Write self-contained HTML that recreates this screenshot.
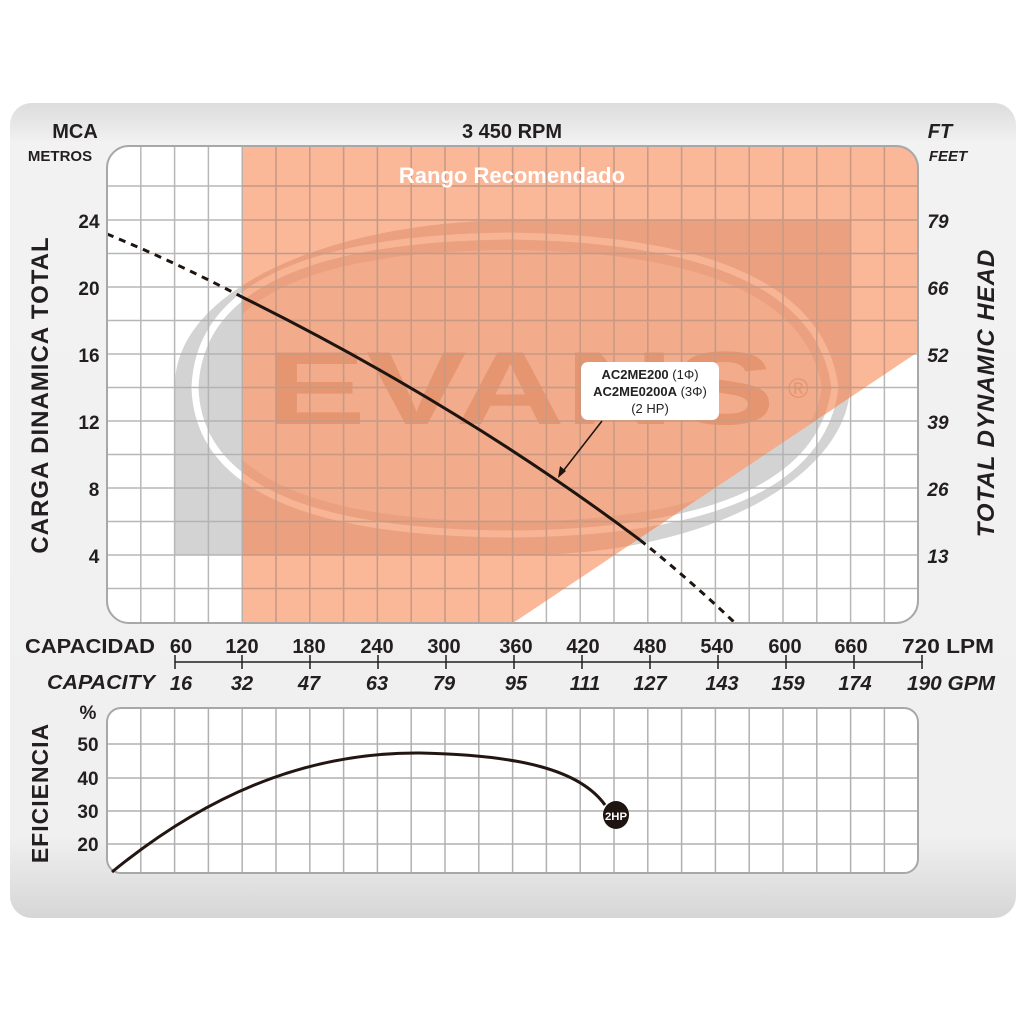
<!DOCTYPE html>
<html><head><meta charset="utf-8"><style>
html,body{margin:0;padding:0;background:#fff;width:1024px;height:1024px;overflow:hidden}
svg text{font-family:"Liberation Sans",Arial,sans-serif}
</style></head><body>
<svg width="1024" height="1024" viewBox="0 0 1024 1024" xmlns="http://www.w3.org/2000/svg">
<defs>
<linearGradient id="bg" x1="0" y1="0" x2="0" y2="1">
<stop offset="0" stop-color="#dcdcdc"/><stop offset="0.05" stop-color="#f2f2f2"/><stop offset="0.9" stop-color="#f0f0f0"/><stop offset="1" stop-color="#d6d6d6"/>
</linearGradient>
<clipPath id="plot"><rect x="107" y="146" width="811" height="477" rx="22"/></clipPath>
<clipPath id="orange"><polygon points="242,146 918,146 918,352 513,623 242,623"/></clipPath>
<clipPath id="notorange"><polygon points="107,146 242,146 242,623 107,623"/><polygon points="918,352 918,623 513,623"/></clipPath>
</defs>
<rect x="10" y="103" width="1006" height="815" rx="22" fill="url(#bg)"/>
<g clip-path="url(#plot)">
<rect x="107" y="146" width="811" height="477" fill="#fff"/>
<g clip-path="url(#notorange)">
<path d="M175,385 C175,290 330,220 520,220 L850,220 L850,385 C850,470 720,555 520,555 L175,555 Z" fill="#d3d3d3"/>
<path d="M195,388 Q200,240 508,236 Q816,240 835,388 Q816,532 508,534 Q200,532 195,388 Z" fill="none" stroke="#fff" stroke-width="7"/>
</g>
<g clip-path="url(#orange)">
<rect x="107" y="146" width="811" height="477" fill="#fbb898"/>
<path d="M175,385 C175,290 330,220 520,220 L850,220 L850,385 C850,470 720,555 520,555 L175,555 Z" fill="#eba07f"/>
<path d="M208,388 Q215,252 508,250 Q800,252 822,388 Q800,520 508,522 Q215,520 208,388 Z" fill="#f2ab8b"/>
<path d="M195,388 Q200,240 508,236 Q816,240 835,388 Q816,532 508,534 Q200,532 195,388 Z" fill="none" stroke="#f8b595" stroke-width="7"/>
<text x="265" y="424" font-size="104" font-weight="bold" fill="#e59670" textLength="510" lengthAdjust="spacingAndGlyphs">EVANS</text>
<text x="788" y="398" font-size="28" fill="#e59670">®</text>
</g>
<g stroke="#b0b0b0" stroke-width="1.5" opacity="0.9">
<path d="M140.8,146V623M174.6,146V623M208.4,146V623M242.2,146V623M276,146V623M309.8,146V623M343.6,146V623M377.4,146V623M411.2,146V623M445,146V623M478.8,146V623M512.6,146V623M546.4,146V623M580.2,146V623M614,146V623M647.8,146V623M681.6,146V623M715.4,146V623M749.2,146V623M783,146V623M816.8,146V623M850.6,146V623M884.4,146V623"/>
<path d="M107,186H918M107,220H918M107,253.5H918M107,287H918M107,320.5H918M107,354H918M107,387.5H918M107,421H918M107,454.5H918M107,488H918M107,521.5H918M107,555H918M107,588.5H918"/>
</g>
<g clip-path="url(#orange)" stroke="#d98a66" stroke-width="1.5" opacity="0.6">
<path d="M276,146V623M309.8,146V623M343.6,146V623M377.4,146V623M411.2,146V623M445,146V623M478.8,146V623M512.6,146V623M546.4,146V623M580.2,146V623M614,146V623M647.8,146V623M681.6,146V623M715.4,146V623M749.2,146V623M783,146V623M816.8,146V623M850.6,146V623M884.4,146V623"/>
<path d="M107,186H918M107,220H918M107,253.5H918M107,287H918M107,320.5H918M107,354H918M107,387.5H918M107,421H918M107,454.5H918M107,488H918M107,521.5H918M107,555H918M107,588.5H918"/>
</g>
<text x="512" y="183" font-size="22" font-weight="bold" fill="#fff" text-anchor="middle">Rango Recomendado</text>
<path d="M107,234 Q175,262 242,297" fill="none" stroke="#1e1410" stroke-width="3" stroke-dasharray="7,6"/>
<path d="M242,297 Q460,405 640,540" fill="none" stroke="#1e1410" stroke-width="3"/>
<path d="M640,540 Q690,580 735,623" fill="none" stroke="#1e1410" stroke-width="3" stroke-dasharray="7,6"/>
<rect x="581" y="362" width="138" height="58" rx="7" fill="#fff"/>
<text x="650" y="379" font-size="13" fill="#222" text-anchor="middle"><tspan font-weight="bold">AC2ME200</tspan> (1Φ)</text>
<text x="650" y="396" font-size="13" fill="#222" text-anchor="middle"><tspan font-weight="bold">AC2ME0200A</tspan> (3Φ)</text>
<text x="650" y="413" font-size="13" fill="#222" text-anchor="middle">(2 HP)</text>
<path d="M602,421 L560,475" stroke="#1e1410" stroke-width="1.5"/>
<path d="M558,478 L560,466 L566,471 Z" fill="#1e1410"/>
</g>
<rect x="107" y="146" width="811" height="477" rx="22" fill="none" stroke="#a8a8a8" stroke-width="2"/>
<g font-weight="bold" fill="#231f20">
<text x="75" y="138" font-size="20" text-anchor="middle">MCA</text>
<text x="60" y="161" font-size="15" text-anchor="middle">METROS</text>
<text x="512" y="138" font-size="20" text-anchor="middle">3 450 RPM</text>
<text x="940" y="138" font-size="20" text-anchor="middle" font-style="italic">FT</text>
<text x="948" y="161" font-size="15" text-anchor="middle" font-style="italic">FEET</text>
<g font-size="19" text-anchor="middle">
<text x="89" y="228">24</text><text x="89" y="295">20</text><text x="89" y="362">16</text><text x="89" y="429">12</text><text x="94" y="496">8</text><text x="94" y="563">4</text>
</g>
<g font-size="19" text-anchor="middle" font-style="italic">
<text x="938" y="228">79</text><text x="938" y="295">66</text><text x="938" y="362">52</text><text x="938" y="429">39</text><text x="938" y="496">26</text><text x="938" y="563">13</text>
</g>
<text transform="translate(48,395) rotate(-90)" font-size="24" text-anchor="middle" letter-spacing="1">CARGA  DINAMICA  TOTAL</text>
<text transform="translate(994,393) rotate(-90)" font-size="24" text-anchor="middle" font-style="italic" letter-spacing="1">TOTAL  DYNAMIC  HEAD</text>
<text x="25" y="653" font-size="20" textLength="130" lengthAdjust="spacingAndGlyphs">CAPACIDAD</text>
<g font-size="20" text-anchor="middle">
<text x="181" y="653">60</text><text x="242" y="653">120</text><text x="309" y="653">180</text><text x="377" y="653">240</text><text x="444" y="653">300</text><text x="516" y="653">360</text><text x="583" y="653">420</text><text x="650" y="653">480</text><text x="717" y="653">540</text><text x="785" y="653">600</text><text x="851" y="653">660</text>
</g>
<text x="902" y="653" font-size="20" textLength="92" lengthAdjust="spacingAndGlyphs">720 LPM</text>
<text x="47" y="689" font-size="20" font-style="italic" textLength="108" lengthAdjust="spacingAndGlyphs">CAPACITY</text>
<g font-size="20" text-anchor="middle" font-style="italic">
<text x="181" y="690">16</text><text x="242" y="690">32</text><text x="309" y="690">47</text><text x="377" y="690">63</text><text x="444" y="690">79</text><text x="516" y="690">95</text><text x="585" y="690">111</text><text x="650" y="690">127</text><text x="722" y="690">143</text><text x="788" y="690">159</text><text x="855" y="690">174</text>
</g>
<text x="907" y="690" font-size="20" font-style="italic" textLength="88" lengthAdjust="spacingAndGlyphs">190 GPM</text>
</g>
<path d="M175,662H923M175,655V669M242,655V669M310,655V669M378,655V669M446,655V669M514,655V669M582,655V669M650,655V669M718,655V669M786,655V669M854,655V669M922,655V669" stroke="#231f20" stroke-width="1.5"/>
<rect x="107" y="708" width="811" height="165" rx="14" fill="#fff"/>
<g stroke="#b0b0b0" stroke-width="1.5">
<path d="M140.8,708V873M174.6,708V873M208.4,708V873M242.2,708V873M276,708V873M309.8,708V873M343.6,708V873M377.4,708V873M411.2,708V873M445,708V873M478.8,708V873M512.6,708V873M546.4,708V873M580.2,708V873M614,708V873M647.8,708V873M681.6,708V873M715.4,708V873M749.2,708V873M783,708V873M816.8,708V873M850.6,708V873M884.4,708V873"/>
<path d="M107,744H918M107,778H918M107,811H918M107,844H918"/>
</g>
<rect x="107" y="708" width="811" height="165" rx="14" fill="none" stroke="#a8a8a8" stroke-width="2"/>
<path d="M112,872 C200,800 300,752 420,753 C520,755 580,770 605,805" fill="none" stroke="#231612" stroke-width="3"/>
<ellipse cx="616" cy="815" rx="13" ry="14" fill="#1e1410"/>
<text x="616" y="820" font-size="11" font-weight="bold" fill="#fff" text-anchor="middle" textLength="22" lengthAdjust="spacingAndGlyphs">2HP</text>
<g font-weight="bold" fill="#231f20" font-size="19" text-anchor="middle">
<text x="88" y="719">%</text>
<text x="88" y="751">50</text><text x="88" y="785">40</text><text x="88" y="818">30</text><text x="88" y="851">20</text>
<text transform="translate(48,793) rotate(-90)" font-size="23" letter-spacing="1">EFICIENCIA</text>
</g>
</svg>
</body></html>
